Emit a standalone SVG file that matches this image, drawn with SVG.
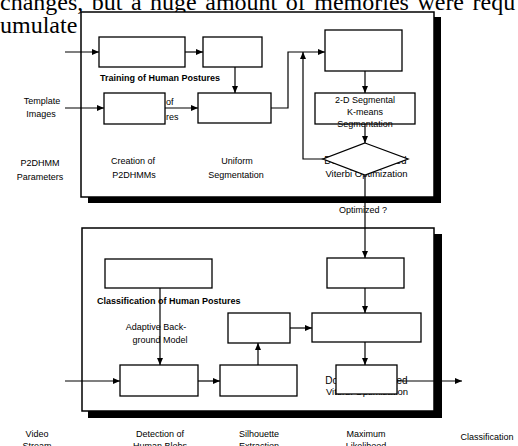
<svg xmlns="http://www.w3.org/2000/svg" width="518" height="446" viewBox="0 0 518 446">
<defs>
<marker id="ah" markerUnits="userSpaceOnUse" markerWidth="8" markerHeight="6" refX="7" refY="3" orient="auto">
<path d="M0,0 L7,3 L0,6 z" fill="#000"/>
</marker>
<style>
.frame{fill:#fff;stroke:#000;stroke-width:1.5}
.shadow{fill:#000}
.box{fill:#fff;stroke:#000;stroke-width:1.3}
.ln{fill:none;stroke:#000;stroke-width:1.2}
.arr{fill:none;stroke:#000;stroke-width:1.2;marker-end:url(#ah)}
.t{font-family:"Liberation Sans",Arial,sans-serif;font-size:9px;fill:#000}
.m{text-anchor:middle}
.b{font-weight:bold}
.hdr{font-family:"Liberation Serif","Times New Roman",serif;font-size:24px;fill:#000}
</style>
</defs>
<rect width="518" height="446" fill="#fff"/>
<text class="hdr" x="0" y="10" word-spacing="2.5">changes, but a huge amount of memories were requ</text>
<text class="hdr" x="0" y="33">umulate</text>

<g id="frame-training">
<rect class="shadow" x="434" y="17" width="7" height="186"/>
<rect class="shadow" x="88" y="197" width="353" height="6"/>
<rect class="frame" x="81" y="12" width="353" height="185"/>
</g>
<g id="frame-classification">
<rect class="shadow" x="434" y="234" width="8" height="184"/>
<rect class="shadow" x="88" y="411" width="354" height="7"/>
<rect class="frame" x="82" y="228" width="352" height="183"/>
</g>

<g id="labels">
<text class="t m" x="42" y="104">Template</text>
<text class="t m" x="41" y="117">Images</text>
<text class="t m" x="40" y="166">P2DHMM</text>
<text class="t m" x="40" y="180">Parameters</text>
<text class="t m" x="133" y="164">Creation of</text>
<text class="t m" x="134" y="178">P2DHMMs</text>
<text class="t m" x="237" y="164">Uniform</text>
<text class="t m" x="236" y="178">Segmentation</text>
<text class="t b" x="100" y="81">Training of Human Postures</text>
<text class="t" x="166" y="105">of</text>
<text class="t" x="166" y="120">res</text>
<text class="t m" x="363" y="213">Optimized ?</text>
<text class="t b" x="97" y="304">Classification of Human Postures</text>
<text class="t m" x="156" y="330">Adaptive Back-</text>
<text class="t m" x="160" y="343">ground Model</text>
<text class="t m" x="37" y="437">Video</text>
<text class="t m" x="37" y="449">Stream</text>
<text class="t m" x="160" y="437">Detection of</text>
<text class="t m" x="160" y="449">Human Blobs</text>
<text class="t m" x="259" y="437">Silhouette</text>
<text class="t m" x="259" y="449">Extraction</text>
<text class="t m" x="366" y="437">Maximum</text>
<text class="t m" x="366" y="449">Likelihood</text>
<text class="t m" x="487" y="440">Classification</text>
<text class="t m" x="365.5" y="164" style="font-size:10px">Doubly Embedded</text>
<text class="t m" x="366.5" y="177" style="font-size:9.5px">Viterbi Optimization</text>
<text class="t m" x="366.5" y="384" style="font-size:10px">Doubly Embedded</text>
<text class="t m" x="367" y="395" style="font-size:9.5px">Viterbi Optimization</text>
</g>

<g id="connectors">
<line class="arr" x1="65" y1="52" x2="99" y2="52"/>
<line class="arr" x1="185" y1="52" x2="203" y2="52"/>
<line class="arr" x1="235" y1="67" x2="235" y2="93"/>
<line class="arr" x1="65" y1="108" x2="104" y2="108"/>
<line class="arr" x1="165" y1="108" x2="198" y2="108"/>
<polyline class="arr" points="271,108 288,108 288,52 325,52"/>
<polyline class="arr" points="323,159 303,159 303,52"/>
<line class="arr" x1="365" y1="71" x2="365" y2="93"/>
<line class="arr" x1="365" y1="124" x2="365" y2="143"/>
<line class="arr" x1="365" y1="175" x2="365" y2="258"/>
<line class="arr" x1="365" y1="288" x2="365" y2="313"/>
<line class="arr" x1="365" y1="342" x2="365" y2="365"/>
<line class="arr" x1="160" y1="288" x2="160" y2="365"/>
<line class="arr" x1="65" y1="381" x2="120" y2="381"/>
<line class="arr" x1="198" y1="381" x2="220" y2="381"/>
<line class="arr" x1="258" y1="365" x2="258" y2="343"/>
<line class="arr" x1="290" y1="328" x2="312" y2="328"/>
<line class="arr" x1="397" y1="381" x2="462" y2="381"/>
</g>

<g id="node-a"><rect class="box" x="99" y="37" width="86" height="30"/></g>
<g id="node-b"><rect class="box" x="203" y="37" width="59" height="30"/></g>
<g id="node-c"><rect class="box" x="104" y="93" width="61" height="31"/></g>
<g id="node-d"><rect class="box" x="198" y="93" width="73" height="30"/></g>
<g id="node-e"><rect class="box" x="325" y="30" width="77" height="41"/></g>
<g id="node-f">
<rect class="box" x="315" y="93" width="100" height="31"/>
<text class="t m" x="365" y="103">2-D Segmental</text>
<text class="t m" x="365" y="115">K-means</text>
<text class="t m" x="365" y="127">Segmentation</text>
</g>
<g id="node-diamond"><polygon class="box" points="365,143 408,159 365,175 323,159"/></g>
<g id="node-h"><rect class="box" x="105" y="259" width="107" height="29"/></g>
<g id="node-i"><rect class="box" x="120" y="365" width="78" height="31"/></g>
<g id="node-j"><rect class="box" x="220" y="365" width="77" height="31"/></g>
<g id="node-k"><rect class="box" x="228" y="313" width="62" height="30"/></g>
<g id="node-l"><rect class="box" x="312" y="313" width="109" height="29"/></g>
<g id="node-m"><rect class="box" x="327" y="258" width="77" height="30"/></g>
<g id="node-n"><rect class="box" x="336" y="365" width="61" height="29"/></g>
</svg>
